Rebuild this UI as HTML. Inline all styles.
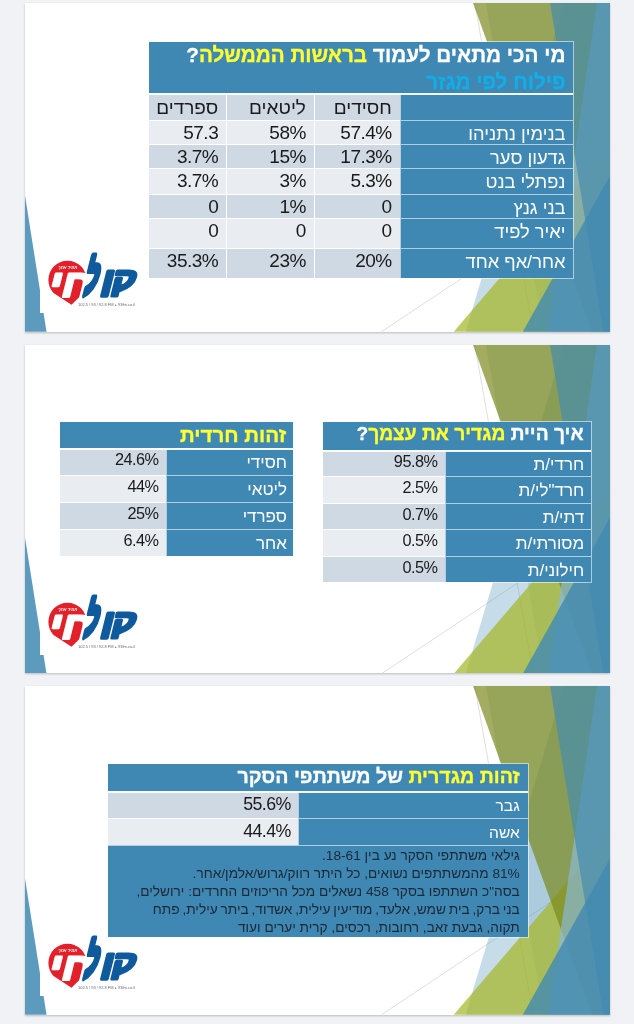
<!DOCTYPE html>
<html lang="he">
<head>
<meta charset="utf-8">
<title>סקר קול חי</title>
<style>
html,body{margin:0;padding:0;}
body{width:634px;height:1024px;background:#f0f2f5;position:relative;overflow:hidden;
 font-family:"Liberation Sans","DejaVu Sans",sans-serif;}
.slide{position:absolute;left:24.6px;width:585.2px;height:328.8px;background:#fff;overflow:hidden;
 box-shadow:0 1px 2px rgba(0,0,0,.22);}
.deco{position:absolute;left:0;top:0;width:585.2px;height:328.8px;display:block;}
.logo{position:absolute;left:15.4px;top:245.9px;width:104px;height:64px;background:#fff;}
.logo svg{display:block;}
.deco,.tb,.logo{filter:blur(.4px);}
.tb{position:absolute;z-index:2;direction:rtl;color:#1a1a1a;font-size:18.3px;box-shadow:0 0 0 1px rgba(255,255,255,.55);}
.tb .r{position:absolute;left:0;right:0;display:flex;flex-direction:row;}
.tb .c{box-sizing:border-box;height:100%;white-space:nowrap;overflow:hidden;padding:0 8px;
 border-left:1px solid #fff;border-top:1px solid #fff;}
.tb .c:last-child{border-left:0;}
.hd{position:absolute;left:0;right:0;top:0;background:#3f88b4;color:#fff;font-weight:bold;
 box-sizing:border-box;padding:0 8px;white-space:nowrap;-webkit-text-stroke:0.3px;}
.note{position:absolute;left:0;right:0;box-sizing:border-box;background:#3f88b4;color:#1c2835;border-top:1px solid rgba(255,255,255,.6);font-size:13.68px;line-height:18px;padding:1px 8px 0 0;white-space:nowrap;}
.hd::after{content:"";position:absolute;left:0;right:0;bottom:-2px;height:2px;background:rgba(255,255,255,.92);z-index:3;}
.y{color:#ffff33;}
.cy{color:#12aee8;}
.n{background:#3f88b4;color:#fff;border-color:rgba(255,255,255,.6) !important;}
.d{background:#cfd9e3;}
.l{background:#e9edf1;}
.num{direction:ltr;text-align:right;font-size:19px;letter-spacing:-0.5px;line-height:24.8px;padding-right:8px !important;}
.t2 .n{font-size:17px;line-height:27.2px;padding-right:7.3px;}
.t2 .num{font-size:16.3px;line-height:20.4px;padding-right:7.4px !important;}
.t3 .num{font-size:17.8px;letter-spacing:-0.55px;line-height:25.4px;padding-right:7.6px !important;}
</style>
</head>
<body>

<!-- ===================== SLIDE 1 ===================== -->
<div class="slide" style="top:3.4px">
<svg class="deco" viewBox="0 0 12192000 6858000" preserveAspectRatio="none">
 <line x1="9371012" y1="0" x2="10590212" y2="6858000" stroke="#d0d0d0" stroke-width="0.7" vector-effect="non-scaling-stroke"/>
 <line x1="12188825" y1="3681413" x2="7425267" y2="6858000" stroke="#d0d0d0" stroke-width="0.7" vector-effect="non-scaling-stroke"/>
 <polygon points="11227008,0 12192000,0 12192000,6858000 9181476,6858000" fill="#418ab3" fill-opacity=".30"/>
 <polygon points="9603442,0 12192000,0 12192000,6858000 10805778,6858000" fill="#418ab3" fill-opacity=".20"/>
 <polygon points="12192000,3048000 12192000,6858000 8932333,6858000" fill="#a6b727" fill-opacity=".72"/>
 <polygon points="9334500,0 12192000,0 12192000,6858000 11808442,6858000" fill="#7c891d" fill-opacity=".70"/>
 <polygon points="11918465,0 12192000,0 12192000,6858000 10898730,6858000" fill="#8ab9d4" fill-opacity=".70"/>
 <polygon points="10938999,0 12192000,0 12192000,6858000 12048381,6858000" fill="#418ab3" fill-opacity=".65"/>
 <polygon points="12192000,3589867 12192000,6858000 10371666,6858000" fill="#418ab3" fill-opacity=".80"/>
 <polygon points="0,4013200 448733,6858000 0,6858000" fill="#418ab3" fill-opacity=".85"/>
</svg>

<div class="tb" style="left:124.5px;top:38.7px;width:424.4px;height:235.9px">
 <div class="hd" style="height:51.3px;line-height:26.6px;font-size:20.7px;padding-top:0.3px">מי הכי מתאים לעמוד <span class="y">בראשות הממשלה</span>?<br><span class="cy">פילוח לפי מגזר</span></div>
 <div class="r" style="top:51.3px;height:26.2px;line-height:28px;font-size:19px">
  <div class="c n" style="width:173.8px"></div><div class="c d" style="width:85.8px">חסידים</div><div class="c d" style="width:87.7px">ליטאים</div><div class="c d" style="width:77.1px">ספרדים</div>
 </div>
 <div class="r" style="top:77.5px;height:24.6px;line-height:25.1px">
  <div class="c n" style="width:173.8px">בנימין נתניהו</div><div class="c l num" style="width:85.8px">57.4%</div><div class="c l num" style="width:87.7px">58%</div><div class="c l num" style="width:77.1px">57.3</div>
 </div>
 <div class="r" style="top:102.1px;height:24.3px;line-height:25.1px">
  <div class="c n" style="width:173.8px">גדעון סער</div><div class="c d num" style="width:85.8px">17.3%</div><div class="c d num" style="width:87.7px">15%</div><div class="c d num" style="width:77.1px">3.7%</div>
 </div>
 <div class="r" style="top:126.4px;height:25.1px;line-height:25.1px">
  <div class="c n" style="width:173.8px">נפתלי בנט</div><div class="c l num" style="width:85.8px">5.3%</div><div class="c l num" style="width:87.7px">3%</div><div class="c l num" style="width:77.1px">3.7%</div>
 </div>
 <div class="r" style="top:151.5px;height:24.1px;line-height:25.1px">
  <div class="c n" style="width:173.8px">בני גנץ</div><div class="c d num" style="width:85.8px">0</div><div class="c d num" style="width:87.7px">1%</div><div class="c d num" style="width:77.1px">0</div>
 </div>
 <div class="r" style="top:175.6px;height:30.7px;line-height:25.1px">
  <div class="c n" style="width:173.8px">יאיר לפיד</div><div class="c l num" style="width:85.8px">0</div><div class="c l num" style="width:87.7px">0</div><div class="c l num" style="width:77.1px">0</div>
 </div>
 <div class="r" style="top:206.3px;height:29.6px;line-height:25.1px">
  <div class="c n" style="width:173.8px">אחר/אף אחד</div><div class="c d num" style="width:85.8px">20%</div><div class="c d num" style="width:87.7px">23%</div><div class="c d num" style="width:77.1px">35.3%</div>
 </div>
</div>
<div class="logo"><svg width="104" height="64" viewBox="0 0 104 64">
 <path d="M8.4,30.8 A19.1,19.1 0 0 1 46.6,30.8 C46.6,36 45.5,40 44.5,43 L31.5,55.8 L13.5,44 A19.1,19.1 0 0 1 8.4,30.8 Z" fill="#e2202a"/>
 <text transform="translate(6.5 47.6) skewX(-14) scale(1.12 1)" font-family="'Liberation Sans','DejaVu Sans',sans-serif" font-weight="bold" font-size="38.5" fill="#fff" stroke="#fff" stroke-width="2.4" stroke-linejoin="round" vector-effect="non-scaling-stroke">חי</text>
 <text transform="translate(42 45.2) skewX(-14) scale(0.56 1.15)" font-family="'Liberation Sans','DejaVu Sans',sans-serif" font-weight="bold" font-size="41" fill="#0f5a9c" stroke="#0f5a9c" stroke-width="5" stroke-linejoin="round" vector-effect="non-scaling-stroke">ל</text>
 <text transform="translate(58.3 47) skewX(-14)" font-family="'Liberation Sans','DejaVu Sans',sans-serif" font-weight="bold" font-size="41" fill="#0f5a9c" stroke="#0f5a9c" stroke-width="3.4" stroke-linejoin="round" vector-effect="non-scaling-stroke">ו</text>
 <text transform="translate(70.5 41.1) skewX(-14) scale(0.88 0.765)" font-family="'Liberation Sans','DejaVu Sans',sans-serif" font-weight="bold" font-size="41" fill="#0f5a9c" stroke="#0f5a9c" stroke-width="3.4" stroke-linejoin="round" vector-effect="non-scaling-stroke">ק</text>
 <text transform="translate(18 19.6) skewX(-12)" font-family="'Liberation Sans','DejaVu Sans',sans-serif" font-weight="bold" font-size="4.6" fill="#fff" textLength="19" lengthAdjust="spacingAndGlyphs">תמיד אתך</text>
 <text x="38" y="56.6" font-family="'Liberation Sans',sans-serif" font-size="3.4" fill="#666" textLength="57" lengthAdjust="spacingAndGlyphs">102.5 / 93 / 92.8 FM ▸ 93fm.co.il</text>
</svg></div>
</div>

<!-- ===================== SLIDE 2 ===================== -->
<div class="slide" style="top:344.7px">
<svg class="deco" viewBox="0 0 12192000 6858000" preserveAspectRatio="none">
 <line x1="9371012" y1="0" x2="10590212" y2="6858000" stroke="#d0d0d0" stroke-width="0.7" vector-effect="non-scaling-stroke"/>
 <line x1="12188825" y1="3681413" x2="7425267" y2="6858000" stroke="#d0d0d0" stroke-width="0.7" vector-effect="non-scaling-stroke"/>
 <polygon points="11227008,0 12192000,0 12192000,6858000 9181476,6858000" fill="#418ab3" fill-opacity=".30"/>
 <polygon points="9603442,0 12192000,0 12192000,6858000 10805778,6858000" fill="#418ab3" fill-opacity=".20"/>
 <polygon points="12192000,3048000 12192000,6858000 8932333,6858000" fill="#a6b727" fill-opacity=".72"/>
 <polygon points="9334500,0 12192000,0 12192000,6858000 11808442,6858000" fill="#7c891d" fill-opacity=".70"/>
 <polygon points="11918465,0 12192000,0 12192000,6858000 10898730,6858000" fill="#8ab9d4" fill-opacity=".70"/>
 <polygon points="10938999,0 12192000,0 12192000,6858000 12048381,6858000" fill="#418ab3" fill-opacity=".65"/>
 <polygon points="12192000,3589867 12192000,6858000 10371666,6858000" fill="#418ab3" fill-opacity=".80"/>
 <polygon points="0,4013200 448733,6858000 0,6858000" fill="#418ab3" fill-opacity=".85"/>
</svg>
<div class="tb t2" style="left:298.5px;top:77.5px;width:268.4px;height:160.0px">
 <div class="hd" style="height:27.6px;line-height:24.3px;font-size:19.2px">איך היית <span class="y">מגדיר את עצמך</span>?</div>
 <div class="r" style="top:27.6px;height:26.5px">
  <div class="c n" style="width:146.6px">חרדי/ת</div><div class="c d num" style="width:121.8px">95.8%</div>
 </div>
 <div class="r" style="top:54.1px;height:26.5px">
  <div class="c n" style="width:146.6px">חרד"לי/ת</div><div class="c l num" style="width:121.8px">2.5%</div>
 </div>
 <div class="r" style="top:80.6px;height:26.5px">
  <div class="c n" style="width:146.6px">דתי/ת</div><div class="c d num" style="width:121.8px">0.7%</div>
 </div>
 <div class="r" style="top:107.0px;height:26.5px">
  <div class="c n" style="width:146.6px">מסורתי/ת</div><div class="c l num" style="width:121.8px">0.5%</div>
 </div>
 <div class="r" style="top:133.5px;height:26.5px">
  <div class="c n" style="width:146.6px">חילוני/ת</div><div class="c d num" style="width:121.8px">0.5%</div>
 </div>
</div>
<div class="tb t2" style="left:35.3px;top:77.5px;width:232.7px;height:133.8px">
 <div class="hd" style="height:26.3px;line-height:25.6px;font-size:20.5px;padding-right:6.4px"><span class="y">זהות חרדית</span></div>
 <div class="r" style="top:26.3px;height:26.9px">
  <div class="c n" style="width:126.6px;padding-right:5.6px">חסידי</div><div class="c d num" style="width:106.1px">24.6%</div>
 </div>
 <div class="r" style="top:53.2px;height:26.9px">
  <div class="c n" style="width:126.6px;padding-right:5.6px">ליטאי</div><div class="c l num" style="width:106.1px">44%</div>
 </div>
 <div class="r" style="top:80.1px;height:26.8px">
  <div class="c n" style="width:126.6px;padding-right:5.6px">ספרדי</div><div class="c d num" style="width:106.1px">25%</div>
 </div>
 <div class="r" style="top:106.9px;height:26.9px">
  <div class="c n" style="width:126.6px;padding-right:5.6px">אחר</div><div class="c l num" style="width:106.1px">6.4%</div>
 </div>
</div>
<div class="logo"><svg width="104" height="64" viewBox="0 0 104 64">
 <path d="M8.4,30.8 A19.1,19.1 0 0 1 46.6,30.8 C46.6,36 45.5,40 44.5,43 L31.5,55.8 L13.5,44 A19.1,19.1 0 0 1 8.4,30.8 Z" fill="#e2202a"/>
 <text transform="translate(6.5 47.6) skewX(-14) scale(1.12 1)" font-family="'Liberation Sans','DejaVu Sans',sans-serif" font-weight="bold" font-size="38.5" fill="#fff" stroke="#fff" stroke-width="2.4" stroke-linejoin="round" vector-effect="non-scaling-stroke">חי</text>
 <text transform="translate(42 45.2) skewX(-14) scale(0.56 1.15)" font-family="'Liberation Sans','DejaVu Sans',sans-serif" font-weight="bold" font-size="41" fill="#0f5a9c" stroke="#0f5a9c" stroke-width="5" stroke-linejoin="round" vector-effect="non-scaling-stroke">ל</text>
 <text transform="translate(58.3 47) skewX(-14)" font-family="'Liberation Sans','DejaVu Sans',sans-serif" font-weight="bold" font-size="41" fill="#0f5a9c" stroke="#0f5a9c" stroke-width="3.4" stroke-linejoin="round" vector-effect="non-scaling-stroke">ו</text>
 <text transform="translate(70.5 41.1) skewX(-14) scale(0.88 0.765)" font-family="'Liberation Sans','DejaVu Sans',sans-serif" font-weight="bold" font-size="41" fill="#0f5a9c" stroke="#0f5a9c" stroke-width="3.4" stroke-linejoin="round" vector-effect="non-scaling-stroke">ק</text>
 <text transform="translate(18 19.6) skewX(-12)" font-family="'Liberation Sans','DejaVu Sans',sans-serif" font-weight="bold" font-size="4.6" fill="#fff" textLength="19" lengthAdjust="spacingAndGlyphs">תמיד אתך</text>
 <text x="38" y="56.6" font-family="'Liberation Sans',sans-serif" font-size="3.4" fill="#666" textLength="57" lengthAdjust="spacingAndGlyphs">102.5 / 93 / 92.8 FM ▸ 93fm.co.il</text>
</svg></div>
</div>

<!-- ===================== SLIDE 3 ===================== -->
<div class="slide" style="top:686px">
<svg class="deco" viewBox="0 0 12192000 6858000" preserveAspectRatio="none">
 <line x1="9371012" y1="0" x2="10590212" y2="6858000" stroke="#d0d0d0" stroke-width="0.7" vector-effect="non-scaling-stroke"/>
 <line x1="12188825" y1="3681413" x2="7425267" y2="6858000" stroke="#d0d0d0" stroke-width="0.7" vector-effect="non-scaling-stroke"/>
 <polygon points="11227008,0 12192000,0 12192000,6858000 9181476,6858000" fill="#418ab3" fill-opacity=".30"/>
 <polygon points="9603442,0 12192000,0 12192000,6858000 10805778,6858000" fill="#418ab3" fill-opacity=".20"/>
 <polygon points="12192000,3048000 12192000,6858000 8932333,6858000" fill="#a6b727" fill-opacity=".72"/>
 <polygon points="9334500,0 12192000,0 12192000,6858000 11808442,6858000" fill="#7c891d" fill-opacity=".70"/>
 <polygon points="11918465,0 12192000,0 12192000,6858000 10898730,6858000" fill="#8ab9d4" fill-opacity=".70"/>
 <polygon points="10938999,0 12192000,0 12192000,6858000 12048381,6858000" fill="#418ab3" fill-opacity=".65"/>
 <polygon points="12192000,3589867 12192000,6858000 10371666,6858000" fill="#418ab3" fill-opacity=".80"/>
 <polygon points="0,4013200 448733,6858000 0,6858000" fill="#418ab3" fill-opacity=".85"/>
</svg>
<div class="tb t3" style="left:83.3px;top:78.2px;width:419.9px;height:172.5px">
 <div class="hd" style="height:26.8px;line-height:24.8px;font-size:19.6px"><span class="y">זהות מגדרית</span> של משתתפי הסקר</div>
 <div class="r" style="top:26.8px;height:26.8px;line-height:25.1px">
  <div class="c n" style="width:229.4px;font-size:15.6px;line-height:28.8px">גבר</div><div class="c d num" style="width:190.5px">55.6%</div>
 </div>
 <div class="r" style="top:53.6px;height:27.2px;line-height:25.1px">
  <div class="c n" style="width:229.4px;font-size:15.6px;line-height:28.6px">אשה</div><div class="c l num" style="width:190.5px">44.4%</div>
 </div>
 <div class="note" style="top:80.8px;height:91.7px">גילאי משתתפי הסקר נע בין 18-61.<br>81% מהמשתתפים נשואים, כל היתר רווק/גרוש/אלמן/אחר.<br>בסה"כ השתתפו בסקר 458 נשאלים מכל הריכוזים החרדים: ירושלים,<br><span style="word-spacing:-0.95px">בני ברק, בית שמש, אלעד, מודיעין עילית, אשדוד, ביתר עילית, פתח</span><br>תקוה, גבעת זאב, רחובות, רכסים, קרית יערים ועוד</div>
</div>
<div class="logo"><svg width="104" height="64" viewBox="0 0 104 64">
 <path d="M8.4,30.8 A19.1,19.1 0 0 1 46.6,30.8 C46.6,36 45.5,40 44.5,43 L31.5,55.8 L13.5,44 A19.1,19.1 0 0 1 8.4,30.8 Z" fill="#e2202a"/>
 <text transform="translate(6.5 47.6) skewX(-14) scale(1.12 1)" font-family="'Liberation Sans','DejaVu Sans',sans-serif" font-weight="bold" font-size="38.5" fill="#fff" stroke="#fff" stroke-width="2.4" stroke-linejoin="round" vector-effect="non-scaling-stroke">חי</text>
 <text transform="translate(42 45.2) skewX(-14) scale(0.56 1.15)" font-family="'Liberation Sans','DejaVu Sans',sans-serif" font-weight="bold" font-size="41" fill="#0f5a9c" stroke="#0f5a9c" stroke-width="5" stroke-linejoin="round" vector-effect="non-scaling-stroke">ל</text>
 <text transform="translate(58.3 47) skewX(-14)" font-family="'Liberation Sans','DejaVu Sans',sans-serif" font-weight="bold" font-size="41" fill="#0f5a9c" stroke="#0f5a9c" stroke-width="3.4" stroke-linejoin="round" vector-effect="non-scaling-stroke">ו</text>
 <text transform="translate(70.5 41.1) skewX(-14) scale(0.88 0.765)" font-family="'Liberation Sans','DejaVu Sans',sans-serif" font-weight="bold" font-size="41" fill="#0f5a9c" stroke="#0f5a9c" stroke-width="3.4" stroke-linejoin="round" vector-effect="non-scaling-stroke">ק</text>
 <text transform="translate(18 19.6) skewX(-12)" font-family="'Liberation Sans','DejaVu Sans',sans-serif" font-weight="bold" font-size="4.6" fill="#fff" textLength="19" lengthAdjust="spacingAndGlyphs">תמיד אתך</text>
 <text x="38" y="56.6" font-family="'Liberation Sans',sans-serif" font-size="3.4" fill="#666" textLength="57" lengthAdjust="spacingAndGlyphs">102.5 / 93 / 92.8 FM ▸ 93fm.co.il</text>
</svg></div>
</div>

</body>
</html>
